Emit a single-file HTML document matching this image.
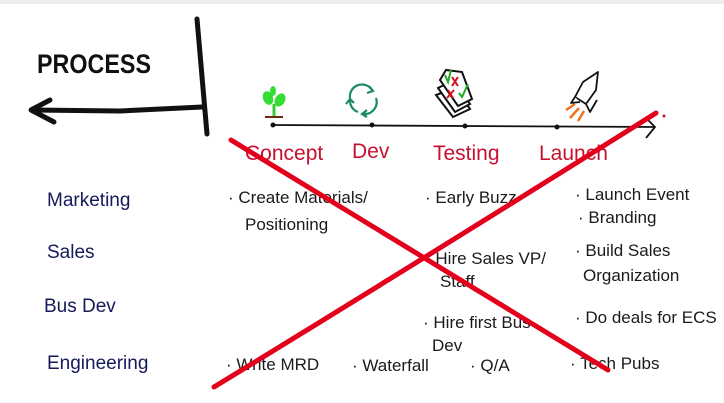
<!DOCTYPE html>
<html><head><meta charset="utf-8"><style>
html,body{margin:0;padding:0;background:#fff;}
svg{display:block}
.b{font-family:"Liberation Sans",sans-serif;font-size:17px;fill:#1a1a1a;}
.r{font-family:"Liberation Sans",sans-serif;font-size:21px;fill:#c8102e;}
.n{font-family:"Liberation Sans",sans-serif;font-size:19px;fill:#141a5a;}
</style></head><body>
<svg width="724" height="403" viewBox="0 0 724 403" xmlns="http://www.w3.org/2000/svg">
<rect width="724" height="403" fill="#fff"/>
<rect width="724" height="4" fill="#eee"/>
<text x="37" y="73" font-family="Liberation Sans" font-weight="bold" font-size="27" fill="#111" textLength="114" lengthAdjust="spacingAndGlyphs">PROCESS</text>
<path d="M197 19 L207 134" stroke="#111" stroke-width="5" stroke-linecap="round" fill="none"/>
<path d="M202 107 L120 111 L32 110" stroke="#111" stroke-width="5" stroke-linecap="round" fill="none"/>
<path d="M50 100 L31 110 L54 122" stroke="#111" stroke-width="5" stroke-linecap="round" stroke-linejoin="round" fill="none"/>
<!-- timeline -->
<path d="M273 125 L655 127" stroke="#111" stroke-width="1.8" fill="none"/>
<path d="M645 117 L655 127 L646 138" stroke="#111" stroke-width="1.8" fill="none"/>
<circle cx="273" cy="125" r="2.5" fill="#111"/><circle cx="372" cy="125" r="2.5" fill="#111"/>
<circle cx="465" cy="126" r="2.5" fill="#111"/><circle cx="557" cy="127" r="2.5" fill="#111"/>
<circle cx="664" cy="116" r="1.5" fill="#c8102e"/>
<!-- sprout -->
<path d="M265 117 L283 117" stroke="#6b2a10" stroke-width="2"/>
<path d="M274 116 L274 104" stroke="#3c3" stroke-width="3"/>
<ellipse cx="268" cy="98" rx="5" ry="7" fill="#3d3" transform="rotate(-20 268 98)"/>
<ellipse cx="280" cy="100" rx="5" ry="7" fill="#3d3" transform="rotate(30 280 100)"/>
<ellipse cx="273" cy="91" rx="3" ry="5" fill="#3d3"/>
<!-- recycle -->
<g stroke="#1a8a6a" stroke-width="2.2" fill="none">
<path d="M350 98 A12 12 0 0 1 372 90"/><path d="M369 86 L373 91 L367 93"/>
<path d="M376 98 A12 12 0 0 1 364 114"/><path d="M367 110 L362 114 L367 117"/>
<path d="M358 112 A12 12 0 0 1 350 100"/><path d="M346 104 L350 99 L354 103"/>
</g>
<!-- papers -->
<g stroke="#111" stroke-width="2" fill="#fff">
<path d="M436 95 L453 117 L470 109 L455 88 Z"/>
<path d="M438 88 L455 112 L470 104 L454 80 Z"/>
<path d="M440 80 L458 106 L472 99 L462 72 L446 70 Z"/>
</g>
<g stroke="#d01020" stroke-width="2"><path d="M452 77 L458 86 M458 77 L452 86"/><path d="M448 90 L453 98 M454 90 L447 98"/></g>
<g stroke="#2a2" stroke-width="2" fill="none"><path d="M445 75 L448 82 L451 70"/><path d="M459 93 L462 97 L468 84"/></g>
<!-- rocket -->
<g stroke="#111" stroke-width="1.8" fill="#fff" stroke-linejoin="round">
<path d="M575 97 L583 82 L598 72 L596 90 L586 104 Z"/>
<path d="M575 97 L571 103 L580 102"/><path d="M586 104 L590 112 L597 100"/>
</g>
<g stroke="#f07020" stroke-width="2.5"><path d="M579 108 L570 118"/><path d="M584 111 L578 121"/><path d="M575 104 L566 110"/></g>
<!-- stage labels -->
<text class="r" x="245" y="160">Concept</text>
<text class="r" x="352" y="158">Dev</text>
<text class="r" x="433" y="160">Testing</text>
<text class="r" x="539" y="160">Launch</text>
<!-- row labels -->
<text class="n" x="47" y="206">Marketing</text>
<text class="n" x="47" y="258">Sales</text>
<text class="n" x="44" y="312">Bus Dev</text>
<text class="n" x="47" y="369">Engineering</text>
<!-- cells -->
<text class="b" x="228" y="203">· Create Materials/</text>
<text class="b" x="245" y="230">Positioning</text>
<text class="b" x="425" y="203">· Early Buzz</text>
<text class="b" x="575" y="200">· Launch Event</text>
<text class="b" x="578" y="223">· Branding</text>
<text class="b" x="425" y="264">· Hire Sales VP/</text>
<text class="b" x="440" y="287">Staff</text>
<text class="b" x="575" y="256">· Build Sales</text>
<text class="b" x="583" y="281">Organization</text>
<text class="b" x="423" y="328">· Hire first Bus</text>
<text class="b" x="432" y="351">Dev</text>
<text class="b" x="575" y="323">· Do deals for ECS</text>
<text class="b" x="226" y="370">· Write MRD</text>
<text class="b" x="352" y="371">· Waterfall</text>
<text class="b" x="470" y="371">· Q/A</text>
<text class="b" x="570" y="369">· Tech Pubs</text>
<!-- red X -->
<path d="M231 140 Q420 255 608 370" stroke="#e3001b" stroke-width="5" stroke-linecap="round" fill="none"/>
<path d="M214 387 Q430 255 656 113" stroke="#e3001b" stroke-width="5" stroke-linecap="round" fill="none"/>
</svg>
</body></html>
